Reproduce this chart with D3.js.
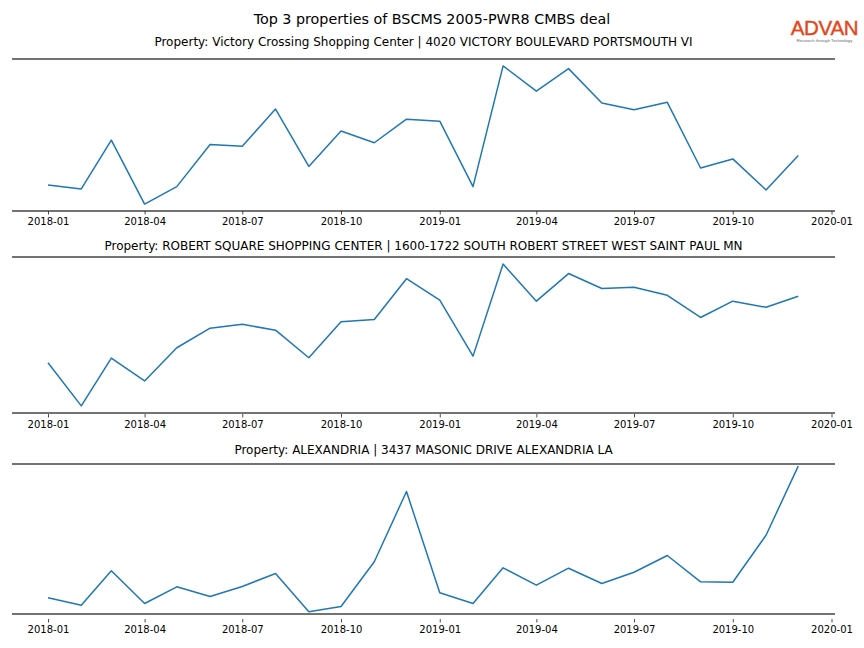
<!DOCTYPE html>
<html>
<head>
<meta charset="utf-8">
<script src="https://cdn.jsdelivr.net/npm/d3@7"></script>
<style>
  html, body { margin: 0; padding: 0; background: #fff; }
  svg { display: block; font-family: "DejaVu Sans", sans-serif; }
</style>
</head>
<body>
<svg id="chart" width="864" height="648"></svg>
<script>
// ---- Data ----
const months = ["2018-01","2018-02","2018-03","2018-04","2018-05","2018-06","2018-07","2018-08","2018-09","2018-10","2018-11","2018-12",
                "2019-01","2019-02","2019-03","2019-04","2019-05","2019-06","2019-07","2019-08","2019-09","2019-10","2019-11","2019-12"];
const mainTitle = "Top 3 properties of BSCMS 2005-PWR8 CMBS deal";
const propertyTitles = [
  "Property: Victory Crossing Shopping Center | 4020 VICTORY BOULEVARD PORTSMOUTH VI",
  "Property: ROBERT SQUARE SHOPPING CENTER | 1600-1722 SOUTH ROBERT STREET WEST SAINT PAUL MN",
  "Property: ALEXANDRIA | 3437 MASONIC DRIVE ALEXANDRIA LA"
];
// estimated monthly visit counts (arbitrary units)
const victoryVisits = [260, 220, 703, 70, 243, 660, 643, 1010, 443, 793, 677, 910,
                       890, 243, 1437, 1187, 1410, 1070, 1003, 1077, 427, 517, 210, 550];
const robertVisits  = [490, 47, 537, 303, 643, 843, 883, 823, 540, 910, 933, 1350,
                       1130, 557, 1500, 1120, 1403, 1250, 1263, 1180, 953, 1120, 1057, 1170];
const alexandriaVisits = [157, 83, 427, 100, 267, 170, 270, 400, 17, 70, 517, 1220,
                          207, 100, 457, 283, 453, 300, 413, 580, 317, 313, 783, 1473];
const tickLabelFormat = "%Y-%m";
const logoText = "ADVAN";
const logoTagline = "Research through Technology";

// ---- Layout ----
const W = 864, H = 648;
const svg = d3.select("#chart");
const parse = d3.timeParse("%Y-%m");
const dates = months.map(parse);

const panels = [
  { values: victoryVisits,    title: propertyTitles[0], top: 59,  bottom: 211, axisY: 211, titleY: 46,  pad: 0.05 },
  { values: robertVisits,     title: propertyTitles[1], top: 257, bottom: 413, axisY: 414, titleY: 250, pad: 0.05 },
  { values: alexandriaVisits, title: propertyTitles[2], top: 464, bottom: 614, axisY: 619, titleY: 454, pad: 0.015 }
];

const left = 12, right = 835;
const t0 = dates[0], t1 = dates[dates.length - 1];
const span = t1 - t0;
const x = d3.scaleTime()
  .domain([new Date(+t0 - span * 0.048), new Date(+t1 + span * 0.049)])
  .range([left, right]);

// Main title
svg.append("text")
  .attr("x", W / 2).attr("y", 24)
  .attr("text-anchor", "middle")
  .attr("font-size", 14.3)
  .attr("fill", "#000")
  .text(mainTitle);

// Logo
const logo = svg.append("g").attr("transform", "translate(824.5,0)");
logo.append("text")
  .attr("x", 0).attr("y", 35)
  .attr("text-anchor", "middle")
  .attr("font-family", "Liberation Sans, Arial, sans-serif")
  .attr("font-size", 20.5)
  .attr("fill", "#e2471c")
  .attr("stroke", "#e2471c")
  .attr("stroke-width", 0.4)
  .attr("letter-spacing", -0.3)
  .text(logoText);
logo.append("text")
  .attr("x", 0).attr("y", 41.5)
  .attr("text-anchor", "middle")
  .attr("font-family", "Liberation Sans, Arial, sans-serif")
  .attr("font-size", 4.2)
  .attr("fill", "#666")
  .text(logoTagline);

panels.forEach(p => {
  const ext = d3.extent(p.values);
  const r = ext[1] - ext[0];
  const y = d3.scaleLinear()
    .domain([ext[0] - r * p.pad, ext[1] + r * p.pad])
    .range([p.bottom, p.top]);

  const g = svg.append("g");

  // subplot title
  g.append("text")
    .attr("x", (left + right) / 2).attr("y", p.titleY)
    .attr("text-anchor", "middle")
    .attr("font-size", 12)
    .attr("fill", "#000")
    .text(p.title);

  // line
  const line = d3.line()
    .x((d, i) => x(dates[i]))
    .y(d => y(d));
  g.append("path")
    .datum(p.values)
    .attr("fill", "none")
    .attr("stroke", "#1f77b4")
    .attr("stroke-width", 1.5)
    .attr("stroke-linejoin", "round")
    .attr("d", line);

  // spines (top and bottom)
  [p.top, p.bottom].forEach(yy => {
    g.append("line")
      .attr("x1", left).attr("x2", right)
      .attr("y1", yy).attr("y2", yy)
      .attr("stroke", "#444")
      .attr("stroke-width", 1.7);
  });

  // x axis
  const axis = d3.axisBottom(x)
    .ticks(d3.timeMonth.every(3))
    .tickFormat(d3.timeFormat(tickLabelFormat))
    .tickSize(3.5)
    .tickPadding(3.5);
  const ag = g.append("g")
    .attr("transform", `translate(0,${p.axisY})`)
    .call(axis);
  ag.select(".domain").remove();
  ag.selectAll(".tick line").attr("stroke", "#222").attr("stroke-width", 0.8);
  ag.selectAll(".tick text")
    .attr("font-family", "DejaVu Sans, sans-serif")
    .attr("font-size", 10)
    .attr("fill", "#000");
});
</script>
</body>
</html>
